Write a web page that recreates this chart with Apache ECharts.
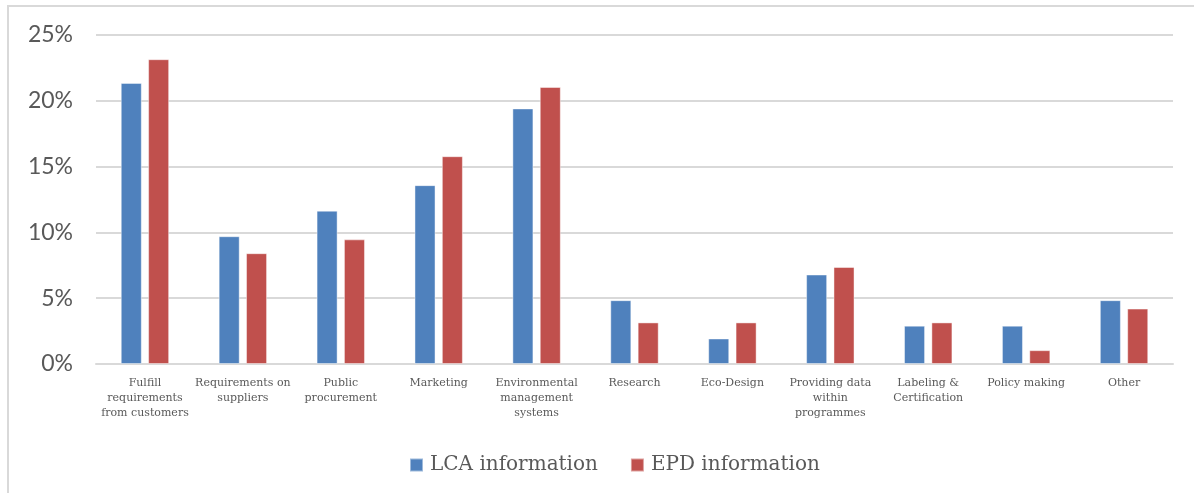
<!DOCTYPE html>
<html>
<head>
<meta charset="utf-8">
<title>LCA and EPD information use</title>
<script src="https://cdn.jsdelivr.net/npm/echarts@6/dist/echarts.min.js"></script>
<style>
  html, body { margin: 0; padding: 0; background: #ffffff; }
  #chart { width: 1194px; height: 493px; }
</style>
</head>
<body>
<div id="chart"></div>
<script>
// Purposes for which the information is used (share of answers, %)
const categories = [
  'Fulfill\nrequirements\nfrom customers',
  'Requirements on\nsuppliers',
  'Public\nprocurement',
  'Marketing',
  'Environmental\nmanagement\nsystems',
  'Research',
  'Eco-Design',
  'Providing data\nwithin\nprogrammes',
  'Labeling &\nCertification',
  'Policy making',
  'Other'
];
const lcaValues = [21.36, 9.71, 11.65, 13.59, 19.42, 4.85, 1.94, 6.80, 2.91, 2.91, 4.85];
const epdValues = [23.16, 8.42, 9.47, 15.79, 21.05, 3.16, 3.16, 7.37, 3.16, 1.05, 4.21];
const seriesNames = ['LCA information', 'EPD information'];
const yTicks = { min: 0, max: 25, interval: 5 };

const chart = echarts.init(document.getElementById('chart'), null, { renderer: 'canvas' });

const labelColor = '#595959';
const gridColor = '#d9d9d9';

chart.setOption({
  animation: false,
  backgroundColor: '#ffffff',
  graphic: [{
    type: 'rect',
    shape: { x: 8, y: 6, width: 1300, height: 600 },
    style: { fill: 'none', stroke: '#d9d9d9', lineWidth: 2 },
    silent: true
  }],
  grid: { left: 96, right: 21, top: 35, bottom: 129 },
  legend: {
    data: seriesNames,
    left: 404,
    top: 450,
    itemWidth: 13,
    itemHeight: 13,
    itemGap: 32,
    icon: 'rect',
    textStyle: {
      fontFamily: '"DejaVu Serif", "Liberation Serif", serif',
      fontSize: 20,
      color: labelColor,
      padding: [0, 0, 0, 2]
    }
  },
  xAxis: {
    type: 'category',
    data: categories,
    axisLine: { show: true, lineStyle: { color: gridColor, width: 2 } },
    axisTick: { show: false },
    axisLabel: {
      interval: 0,
      margin: 12,
      fontFamily: '"DejaVu Serif", "Liberation Serif", serif',
      fontSize: 11,
      lineHeight: 15,
      color: labelColor,
      align: 'center'
    }
  },
  yAxis: {
    type: 'value',
    min: yTicks.min,
    max: yTicks.max,
    interval: yTicks.interval,
    axisLine: { show: false },
    axisTick: { show: false },
    splitLine: { lineStyle: { color: gridColor, width: 2 } },
    axisLabel: {
      margin: 23,
      fontFamily: 'Lato, "Open Sans", sans-serif',
      fontSize: 23,
      color: labelColor,
      formatter: v => v + '%'
    }
  },
  series: [
    {
      name: seriesNames[0],
      type: 'bar',
      data: lcaValues,
      barWidth: '21.5%',
      barGap: '30%',
      itemStyle: { color: '#4f81bd', borderColor: 'rgba(255,255,255,0.45)', borderWidth: 1 }
    },
    {
      name: seriesNames[1],
      type: 'bar',
      data: epdValues,
      barWidth: '21.5%',
      barGap: '30%',
      itemStyle: { color: '#c0504d', borderColor: 'rgba(255,255,255,0.45)', borderWidth: 1 }
    }
  ]
});
</script>
</body>
</html>
